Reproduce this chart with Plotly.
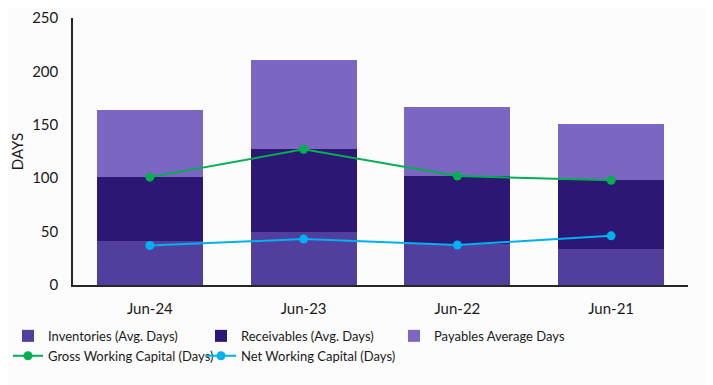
import plotly.graph_objects as go

categories = ["Jun-24", "Jun-23", "Jun-22", "Jun-21"]
inventories = [41, 50, 38, 34]
receivables = [60, 77, 64, 64]
payables = [63, 84, 65, 53]
gross_wc = [101, 127, 102, 98]
net_wc = [37, 43, 37.5, 46]
y_ticks = [0, 50, 100, 150, 200, 250]

FONT = "Lato, Calibri, Carlito, sans-serif"

fig = go.Figure()
fig.add_trace(go.Bar(x=categories, y=inventories, name="Inventories (Avg. Days)",
                     marker_color="#523E9D", marker_line_width=0))
fig.add_trace(go.Bar(x=categories, y=receivables, name="Receivables (Avg. Days)",
                     marker_color="#2C1774", marker_line_width=0))
fig.add_trace(go.Bar(x=categories, y=payables, name="Payables Average Days",
                     marker_color="#7B66C2", marker_line_width=0))
fig.add_trace(go.Scatter(x=categories, y=gross_wc, name="Gross Working Capital (Days)",
                         mode="lines+markers", line=dict(color="#00B050", width=2),
                         marker=dict(size=9, color="#00B050")))
fig.add_trace(go.Scatter(x=categories, y=net_wc, name="Net Working Capital (Days)",
                         mode="lines+markers", line=dict(color="#00B0F0", width=2),
                         marker=dict(size=9, color="#00B0F0")))

# page body has an 8px margin, so the figure is sized/offset to compensate
fig.update_layout(
    width=705, height=377,
    barmode="stack", bargap=0.31,
    paper_bgcolor="#FCFCFC", plot_bgcolor="#FCFCFC",
    margin=dict(l=65, r=25, t=10, b=100),
    font=dict(family=FONT, size=15, color="#1a1a1a"),
    showlegend=True,
    legend=dict(orientation="h", xref="container", yref="container",
                x=0, xanchor="left", y=0.17, yanchor="top",
                entrywidth=148, entrywidthmode="pixels", itemwidth=30,
                traceorder="normal",
                font=dict(family=FONT, size=13, color="#1a1a1a"),
                bgcolor="rgba(0,0,0,0)", tracegroupgap=0),
)
fig.update_xaxes(showline=True, linecolor="#262626", linewidth=1.5, ticks="",
                 showgrid=False, tickfont=dict(size=15), automargin=False,
                 ticklabelstandoff=9)
fig.update_yaxes(range=[0, 250], tickvals=y_ticks, showline=True, linecolor="#262626",
                 linewidth=1.5, showgrid=False, zeroline=False, ticks="",
                 title=dict(text="DAYS", font=dict(size=15), standoff=19),
                 tickfont=dict(size=15), automargin=False, ticklabelstandoff=10,
                 ticklabeloverflow="allow")

fig.write_html("out.html")
